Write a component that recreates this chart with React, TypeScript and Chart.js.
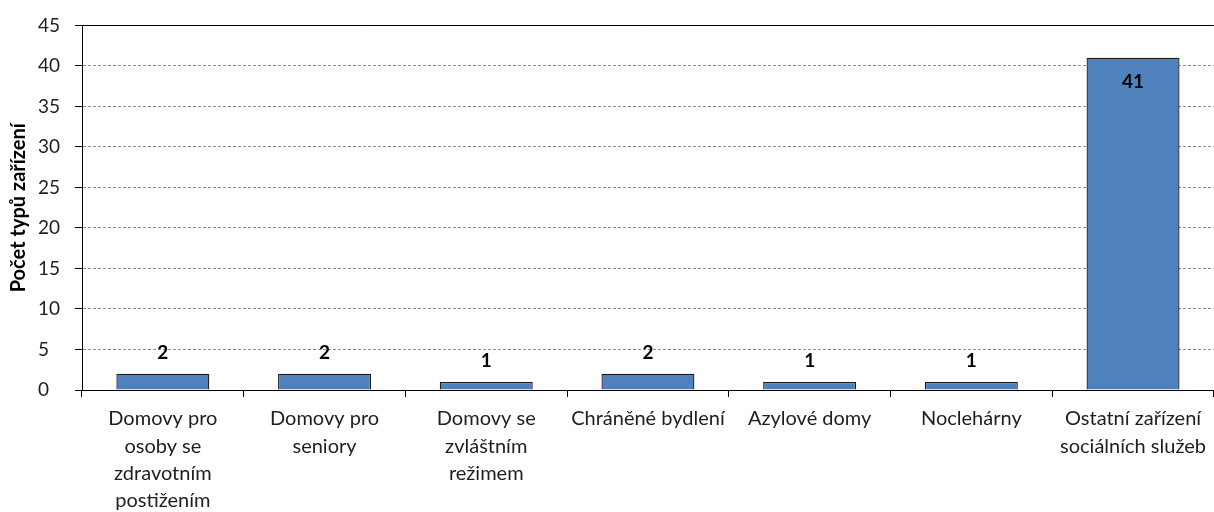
import React, { useEffect, useRef } from "react";
import { Chart, registerables } from "chart.js";

Chart.register(...registerables);

const categories: string[][] = [
  ["Domovy pro", "osoby se", "zdravotním", "postižením"],
  ["Domovy pro", "seniory"],
  ["Domovy se", "zvláštním", "režimem"],
  ["Chráněné bydlení"],
  ["Azylové domy"],
  ["Noclehárny"],
  ["Ostatní zařízení", "sociálních služeb"],
];
const values: number[] = [2, 2, 1, 2, 1, 1, 41];
const yTitle = "Počet typů zařízení";
const yMax = 45;
const yStep = 5;

const FONT = "Lato, 'Open Sans', sans-serif";
const TEXT = "#1e1e1e";

const labelPlugin = {
  id: "barLabels",
  afterDatasetsDraw(chart: any) {
    const ctx = chart.ctx;
    const area = chart.chartArea;
    const meta = chart.getDatasetMeta(0);
    ctx.save();
    ctx.font = `bold 19px ${FONT}`;
    ctx.fillStyle = "#000";
    ctx.textAlign = "center";
    ctx.textBaseline = "middle";
    meta.data.forEach((bar: any, i: number) => {
      const v = values[i];
      let y = bar.y - 21;
      if (y - 13 < area.top) y = bar.y + 24;
      ctx.fillText(String(v), bar.x, y);
    });
    ctx.strokeStyle = "#000";
    ctx.lineWidth = 1;
    ctx.beginPath();
    ctx.moveTo(area.left, Math.round(area.top) + 0.5);
    ctx.lineTo(area.right, Math.round(area.top) + 0.5);
    ctx.stroke();
    ctx.restore();
  },
};

export default function App() {
  const ref = useRef<HTMLCanvasElement | null>(null);
  useEffect(() => {
    if (!ref.current) return;
    const chart = new Chart(ref.current, {
      type: "bar",
      data: {
        labels: categories,
        datasets: [
          {
            data: values,
            backgroundColor: "#4F81BD",
            borderColor: "#1a1a1a",
            borderWidth: 1.3,
            barPercentage: 0.575,
            categoryPercentage: 1,
          },
        ],
      },
      options: {
        animation: false,
        responsive: false,
        maintainAspectRatio: false,
        layout: { padding: { top: 22, right: 0, left: 0, bottom: 0 } },
        plugins: { legend: { display: false }, tooltip: { enabled: false } },
        scales: {
          x: {
            grid: {
              display: true,
              offset: true,
              color: "rgba(0,0,0,0)",
              tickColor: "#000",
              tickLength: 7,
              drawOnChartArea: false,
            },
            border: { color: "#000", width: 1 },
            ticks: {
              color: TEXT,
              font: { family: FONT, size: 20, lineHeight: 1.37 },
              padding: 8,
              maxRotation: 0,
              autoSkip: false,
            },
            afterFit: (s: any) => {
              s.height = 122;
            },
          },
          y: {
            min: 0,
            max: yMax,
            weight: 0,
            ticks: {
              stepSize: yStep,
              color: TEXT,
              font: { family: FONT, size: 19 },
              padding: 14,
              crossAlign: "far",
            },
            grid: {
              color: (c: any) => (c.tick && (c.tick.value === 0 || c.tick.value === yMax) ? "rgba(0,0,0,0)" : "#8c8c8c"),
              tickColor: "#000",
              tickLength: 7,
              lineWidth: 1,
            },
            border: { color: "#000", width: 1, dash: [3, 2] },
            afterFit: (s: any) => {
              s.width = 44;
            },
          },
          yt: {
            type: "linear",
            position: "left",
            weight: 10,
            min: 0,
            max: 1,
            grid: { display: false, drawTicks: false },
            border: { display: false },
            ticks: { display: false },
            title: {
              display: true,
              text: yTitle,
              color: "#000",
              font: { family: FONT, size: 20, weight: "bold" },
              padding: { top: 7, bottom: 0 },
            },
            afterFit: (s: any) => {
              s.width = 38;
            },
          },
        },
      },
      plugins: [labelPlugin],
    });
    return () => chart.destroy();
  }, []);
  return (
    <div style={{ position: "absolute", left: 0, top: 0, width: 1214, height: 512, background: "#fff" }}>
      <canvas ref={ref} width={1214} height={512} style={{ width: 1214, height: 512, display: "block" }} />
    </div>
  );
}
